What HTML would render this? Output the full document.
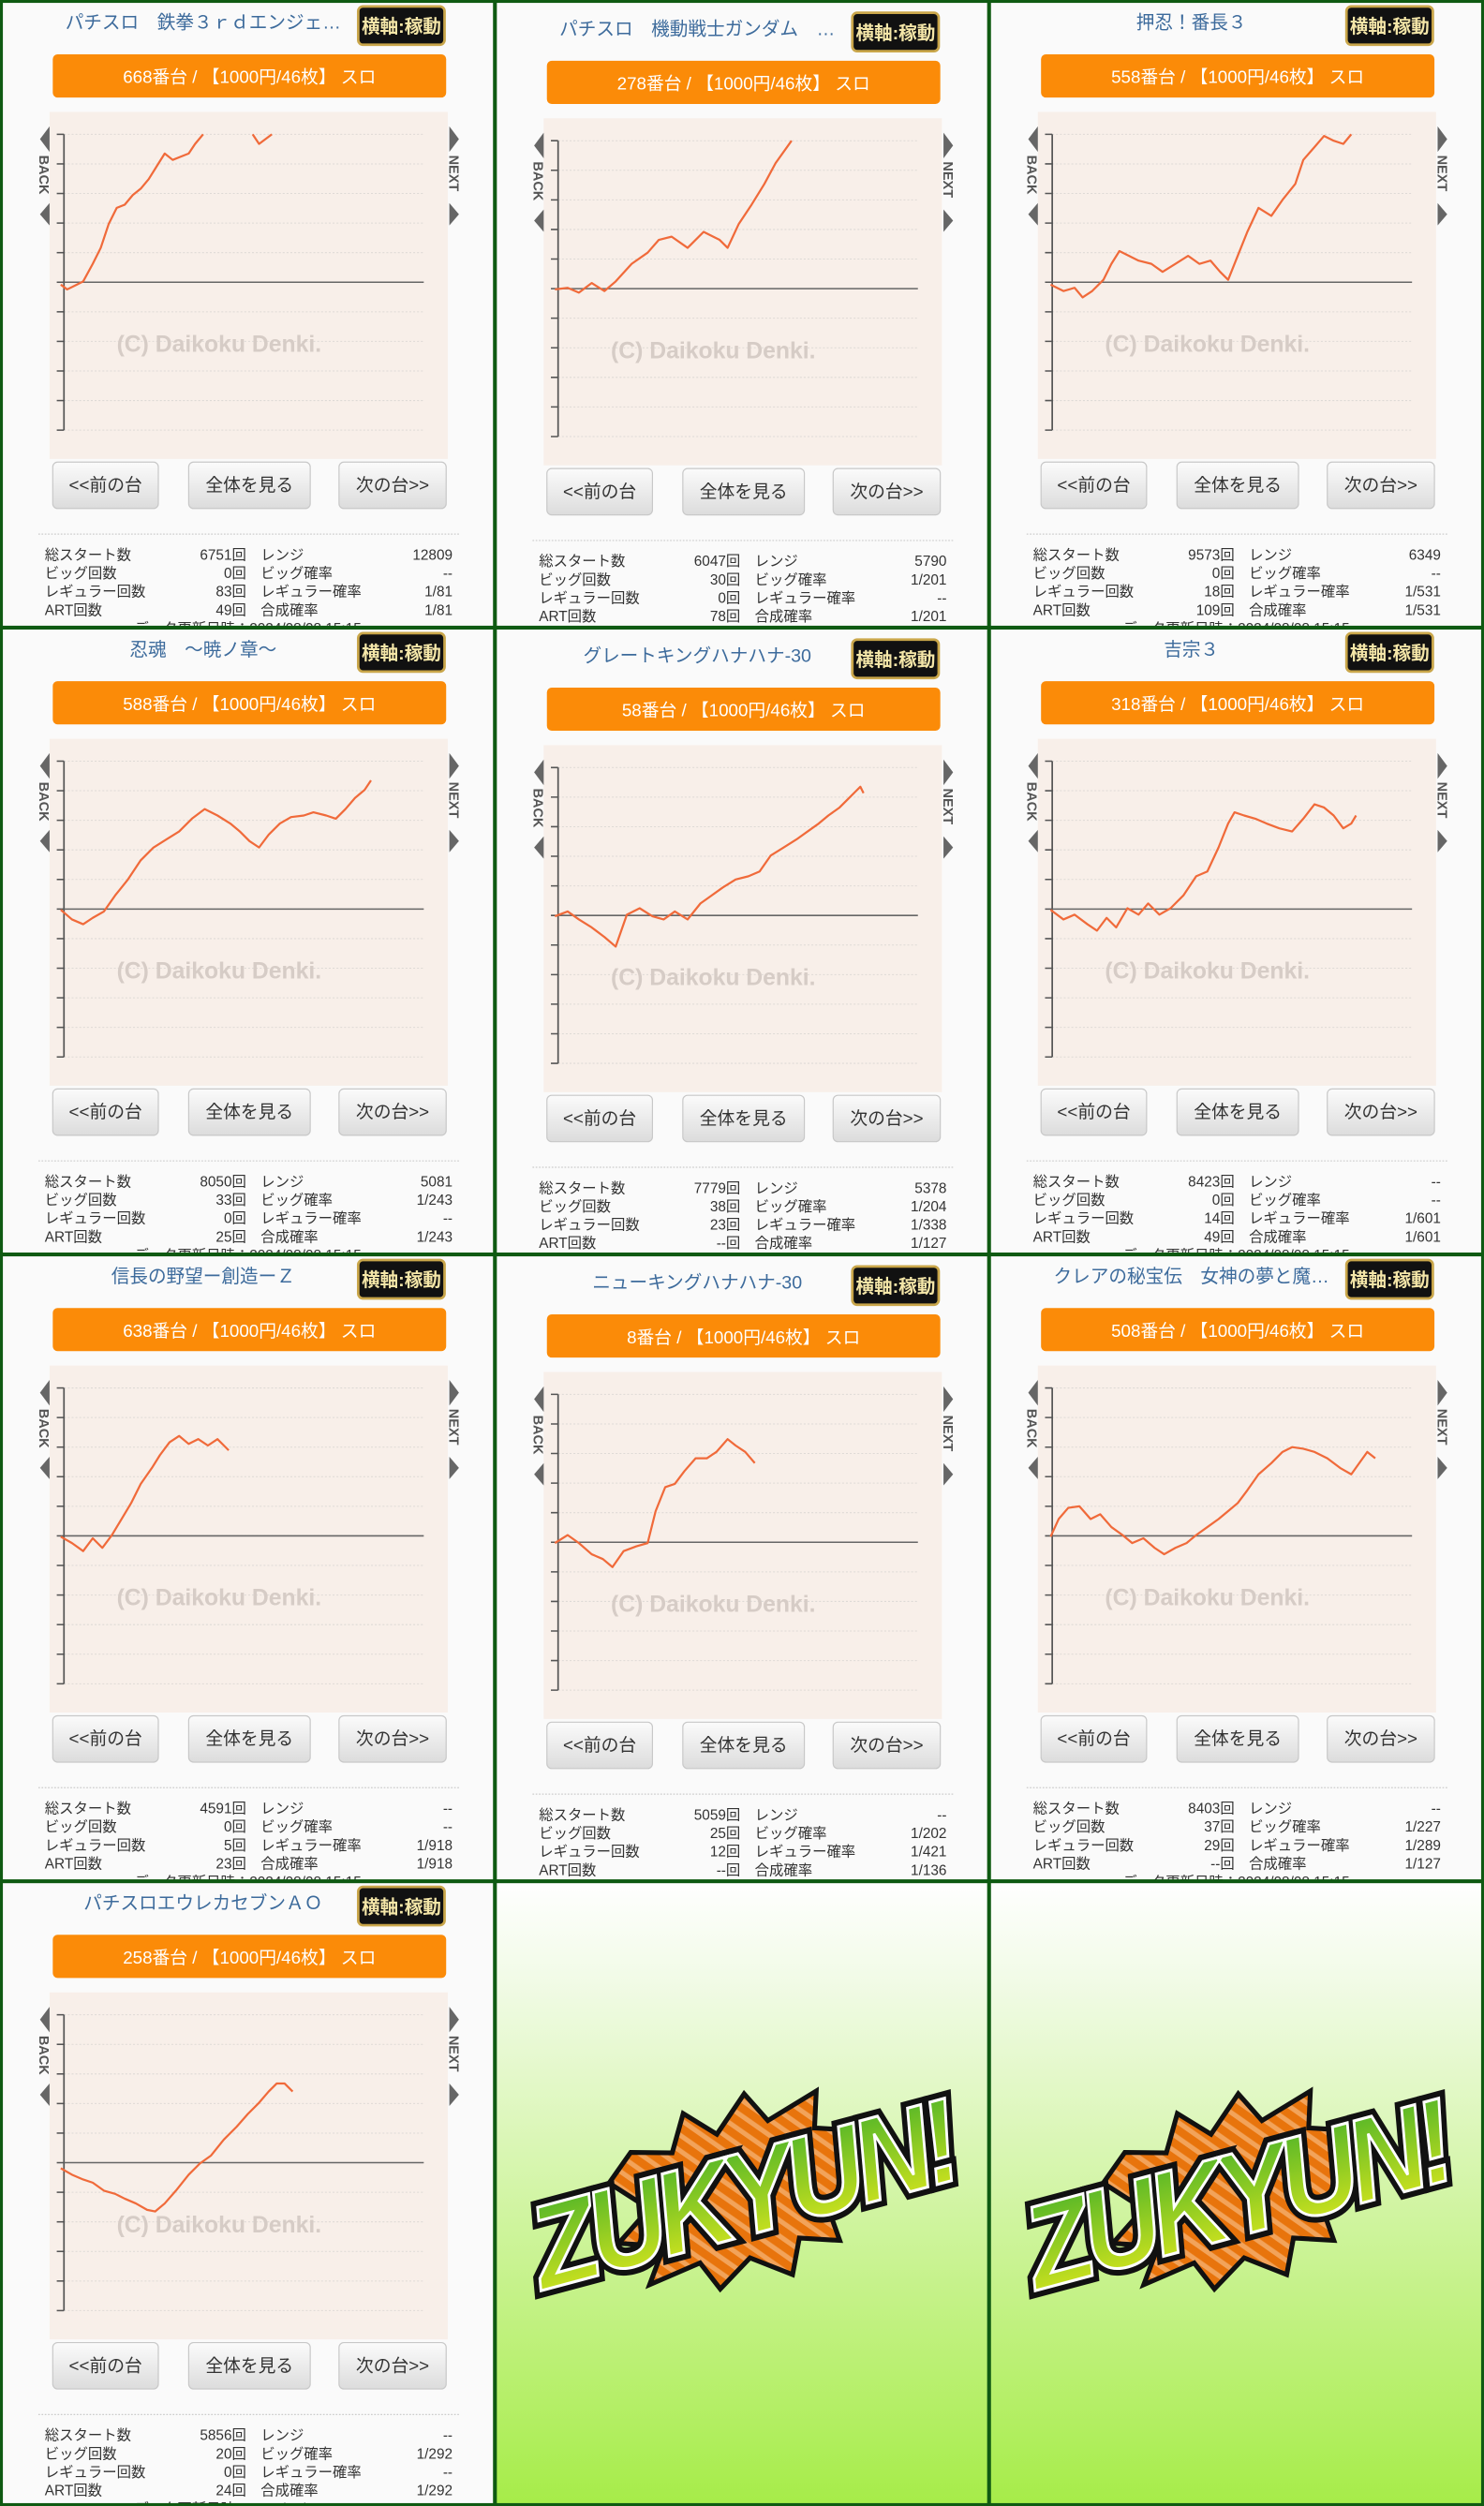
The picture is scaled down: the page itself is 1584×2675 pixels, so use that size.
<!DOCTYPE html>
<html><head><meta charset="utf-8">
<style>
html,body{margin:0;padding:0;background:#fff;width:1584px;height:2675px;overflow:hidden}
svg{display:block}
text{font-family:"Liberation Sans","Noto Sans CJK JP",sans-serif}
</style></head>
<body>
<div id="root"></div>
<script>
const W=309,H=392;
const cells=[
{t:"パチスロ　鉄拳３ｒｄエンジェ…",n:"668",s:["6751回","0回","83回","49回"],r:["12809","--","1/81","1/81"],
 p:[[[38,178],[42,181],[48,178],[52,176],[58,165],[63,155],[68,140],[73,130],[78,128],[83,122],[88,118],[93,112],[98,104],[103,96],[108,100],[113,98],[118,96],[122,90],[127,84]],[[158,84],[162,90],[166,87],[170,84]]]},
{t:"パチスロ　機動戦士ガンダム　…",n:"278",s:["6047回","30回","0回","78回"],r:["5790","1/201","--","1/201"],
 p:[[[347,181],[355,180],[362,183],[370,177],[378,182],[385,176],[395,165],[405,158],[412,150],[420,148],[430,155],[440,145],[450,150],[455,155],[462,140],[470,128],[478,115],[485,102],[495,88]]]},
{t:"押忍！番長３",n:"558",s:["9573回","0回","18回","109回"],r:["6349","--","1/531","1/531"],
 p:[[[657,178],[665,182],[672,180],[677,186],[683,182],[690,175],[695,165],[700,157],[706,160],[712,163],[720,165],[727,170],[735,165],[743,160],[750,165],[757,163],[763,170],[768,175],[774,160],[780,145],[787,130],[795,135],[802,125],[810,115],[815,100],[822,92],[828,85],[834,88],[840,90],[845,84]]]},
{t:"忍魂　～暁ノ章～",n:"588",s:["8050回","33回","0回","25回"],r:["5081","1/243","--","1/243"],
 p:[[[38,569],[45,575],[52,578],[58,574],[65,570],[72,560],[80,550],[88,538],[96,530],[104,525],[112,520],[120,512],[128,506],[136,510],[144,515],[150,520],[156,526],[162,530],[168,522],[175,515],[182,511],[190,510],[196,508],[204,510],[210,512],[216,506],[222,499],[228,494],[232,488]]]},
{t:"グレートキングハナハナ-30",n:"58",s:["7779回","38回","23回","--回"],r:["5378","1/204","1/338","1/127"],
 p:[[[347,573],[355,570],[362,575],[370,580],[378,586],[385,592],[392,572],[400,568],[408,573],[415,575],[422,570],[430,575],[438,565],[445,560],[452,555],[460,550],[468,548],[475,545],[482,535],[490,530],[498,525],[505,520],[512,515],[518,510],[525,505],[530,500],[535,495],[538,492],[540,496]]]},
{t:"吉宗３",n:"318",s:["8423回","0回","14回","49回"],r:["--","--","1/601","1/601"],
 p:[[[657,569],[665,575],[672,572],[680,578],[686,582],[692,574],[698,580],[705,568],[712,572],[718,565],[725,572],[732,568],[740,560],[748,548],[755,545],[762,530],[768,515],[772,508],[778,510],[785,512],[792,515],[800,518],[808,520],[815,512],[822,503],[828,505],[834,510],[840,518],[845,515],[848,510]]]},
{t:"信長の野望ー創造ーＺ",n:"638",s:["4591回","0回","5回","23回"],r:["--","--","1/918","1/918"],
 p:[[[38,961],[45,965],[52,970],[58,962],[64,968],[70,960],[76,950],[82,940],[88,928],[95,918],[100,910],[106,902],[112,898],[118,903],[124,900],[130,904],[136,900],[140,904],[143,907]]]},
{t:"ニューキングハナハナ-30",n:"8",s:["5059回","25回","12回","--回"],r:["--","1/202","1/421","1/136"],
 p:[[[347,965],[355,960],[362,965],[370,972],[377,975],[383,980],[390,970],[398,967],[405,965],[410,945],[416,930],[422,928],[428,920],[435,912],[442,912],[448,908],[455,900],[460,904],[466,908],[472,915]]]},
{t:"クレアの秘宝伝　女神の夢と魔…",n:"508",s:["8403回","37回","29回","--回"],r:["--","1/227","1/289","1/127"],
 p:[[[657,961],[662,950],[668,943],[675,942],[682,950],[688,947],[695,955],[702,960],[708,965],[715,962],[722,968],[728,972],[735,968],[742,965],[748,960],[755,955],[762,950],[768,945],[774,940],[780,932],[787,922],[795,915],[802,908],[808,905],[815,906],[822,908],[830,912],[838,918],[845,922],[850,915],[855,908],[860,912]]]},
{t:"パチスロエウレカセブンＡＯ",n:"258",s:["5856回","20回","0回","24回"],r:["--","1/292","--","1/292"],
 p:[[[38,1356],[45,1360],[52,1363],[58,1365],[65,1370],[72,1372],[78,1375],[85,1378],[92,1382],[97,1383],[103,1378],[110,1370],[118,1360],[125,1353],[132,1348],[140,1338],[148,1330],[155,1322],[162,1315],[168,1308],[173,1303],[178,1303],[183,1308]]]}
];
const L1=["総スタート数","ビッグ回数","レギュラー回数","ART回数"],L2=["レンジ","ビッグ確率","レギュラー確率","合成確率"];
let s=`<svg xmlns="http://www.w3.org/2000/svg" width="1584" height="2675" viewBox="0 0 928 1567.2" preserveAspectRatio="none">
<defs><linearGradient id="bt" x1="0" y1="0" x2="0" y2="1"><stop offset="0" stop-color="#fbfbfb"/><stop offset="1" stop-color="#dcdcdc"/></linearGradient>
<linearGradient id="zg" x1="0" y1="0" x2="0" y2="1"><stop offset="0" stop-color="#ffffff"/><stop offset="0.15" stop-color="#f2fbe8"/><stop offset="1" stop-color="#a6ec48"/></linearGradient>
<linearGradient id="lg" x1="0" y1="0" x2="0" y2="1"><stop offset="0" stop-color="#3fae2a"/><stop offset="1" stop-color="#e3ea1c"/></linearGradient>
<pattern id="st" width="8" height="8" patternUnits="userSpaceOnUse" patternTransform="rotate(-40)"><rect width="8" height="8" fill="#e8740c"/><rect width="3" height="8" fill="#f2a35a"/></pattern>
<clipPath id="cp0"><rect x="0" y="0" width="928" height="1568"/></clipPath></defs>
<rect width="928" height="1568" fill="#fafafa"/>`;
cells.forEach((c,i)=>{
 const col=i%3,row=Math.floor(i/3),ox=col*W,oy=row*H+(col==1?4:0),by=row*H;
 s+=`<svg x="${ox}" y="${by}" width="${W}" height="${H}" viewBox="${ox} ${by} ${W} ${H}" overflow="hidden"><g>`;
 s+=`<text x="${ox+127}" y="${oy+18}" font-size="11.5" fill="#3d6b9c" text-anchor="middle">${c.t}</text>`;
 s+=`<rect x="${ox+224}" y="${by+4+(col==1?4:0)}" width="54" height="24" rx="3" fill="#111" stroke="#c9a64a" stroke-width="1.6"/>`;
 s+=`<text x="${ox+251}" y="${by+20.5+(col==1?4:0)}" font-size="11.5" font-weight="bold" fill="#f4e6a8" text-anchor="middle">横軸:稼動</text>`;
 s+=`<rect x="${ox+33}" y="${oy+34}" width="246" height="27" rx="3" fill="#fb8b08"/>`;
 s+=`<text x="${ox+156}" y="${oy+52}" font-size="11" fill="#fff" text-anchor="middle">${c.n}番台 / 【1000円/46枚】 スロ</text>`;
 s+=`<rect x="${ox+31}" y="${oy+70}" width="249" height="217" fill="#f8efe9"/>`;
 for(let k=0;k<=10;k++){const y=oy+84+k*18.5;
  s+=`<line x1="${ox+40}" y1="${y}" x2="${ox+265}" y2="${y}" stroke="#dedad6" stroke-width="0.6" stroke-dasharray="1.2 1.2"/>`;
  s+=`<line x1="${ox+35.5}" y1="${y}" x2="${ox+40}" y2="${y}" stroke="#555" stroke-width="0.9"/>`;}
 s+=`<line x1="${ox+40}" y1="${oy+84}" x2="${ox+40}" y2="${oy+269}" stroke="#555" stroke-width="1"/>`;
 s+=`<line x1="${ox+40}" y1="${oy+176.5}" x2="${ox+265}" y2="${oy+176.5}" stroke="#666" stroke-width="0.9"/>`;
 s+=`<text x="${ox+137}" y="${oy+220}" font-size="14.5" font-weight="bold" fill="#d6ccc6" text-anchor="middle">(C) Daikoku Denki.</text>`;
 s+=`<polygon points="${ox+31},${oy+79} ${ox+25},${oy+87} ${ox+31},${oy+95}" fill="#666"/><polygon points="${ox+31},${oy+127} ${ox+25},${oy+134} ${ox+31},${oy+141}" fill="#666"/>`;
 s+=`<text transform="translate(${ox+24.5},${oy+97}) rotate(90)" font-size="8.5" font-weight="bold" fill="#555">BACK</text>`;
 s+=`<polygon points="${ox+281},${oy+79} ${ox+287},${oy+87} ${ox+281},${oy+95}" fill="#666"/><polygon points="${ox+281},${oy+127} ${ox+287},${oy+134} ${ox+281},${oy+141}" fill="#666"/>`;
 s+=`<text transform="translate(${ox+281},${oy+97}) rotate(90)" font-size="8.5" font-weight="bold" fill="#555">NEXT</text>`;
 c.p.forEach(seg=>{s+=`<polyline points="${seg.map(q=>q[0]+","+q[1]).join(" ")}" fill="none" stroke="#f06a3a" stroke-width="1.3" stroke-linejoin="round"/>`;});
 [[33,66,"&lt;&lt;前の台"],[118,76,"全体を見る"],[212,67,"次の台&gt;&gt;"]].forEach(b=>{
  s+=`<rect x="${ox+b[0]}" y="${oy+289}" width="${b[1]}" height="29" rx="3" fill="url(#bt)" stroke="#c8c8c8" stroke-width="0.7"/>`;
  s+=`<text x="${ox+b[0]+b[1]/2}" y="${oy+307}" font-size="11" fill="#333" text-anchor="middle">${b[2]}</text>`;});
 s+=`<line x1="${ox+24}" y1="${oy+334}" x2="${ox+287}" y2="${oy+334}" stroke="#ccc" stroke-width="0.7" stroke-dasharray="1 1"/>`;
 for(let k=0;k<4;k++){const y=oy+350+k*11.5;
  s+=`<text x="${ox+28}" y="${y}" font-size="9" fill="#333">${L1[k]}</text>`;
  s+=`<text x="${ox+154}" y="${y}" font-size="9" fill="#333" text-anchor="end">${c.s[k]}</text>`;
  s+=`<text x="${ox+163}" y="${y}" font-size="9" fill="#333">${L2[k]}</text>`;
  s+=`<text x="${ox+283}" y="${y}" font-size="9" fill="#333" text-anchor="end">${c.r[k]}</text>`;}
 s+=`<text x="${ox+155}" y="${oy+396}" font-size="9" fill="#333" text-anchor="middle">データ更新日時：2024/08/08 15:15</text>`;
 s+=`</g></svg>`;
});
[1,2].forEach(col=>{const ox=col*W,oy=3*H;
 s+=`<rect x="${ox}" y="${oy}" width="${W+1}" height="${H}" fill="url(#zg)"/>`;
 s+=`<g transform="translate(${ox+155},${oy+198}) rotate(-15)">`;
 s+=`<polygon points="-60,-45 -35,-38 -22,-60 -5,-42 18,-62 28,-42 62,-52 55,-30 85,-20 65,0 82,22 50,17 52,42 28,34 18,55 -5,38 -28,52 -36,33 -70,38 -55,17 -82,8 -58,-8 -78,-30" fill="url(#st)" stroke="#111" stroke-width="3"/>`;
 s+=`<text x="0" y="24" font-size="74" font-weight="bold" font-style="italic" text-anchor="middle" fill="url(#lg)" stroke="#111" stroke-width="9" paint-order="stroke" letter-spacing="-5" textLength="270" lengthAdjust="spacingAndGlyphs">ZUKYUN!</text>`;
 s+=`<text x="0" y="24" font-size="74" font-weight="bold" font-style="italic" text-anchor="middle" fill="url(#lg)" stroke="#fff" stroke-width="1.8" letter-spacing="-5" textLength="270" lengthAdjust="spacingAndGlyphs">ZUKYUN!</text>`;
 s+=`</g>`;});
for(let r=0;r<4;r++)for(let c=0;c<3;c++){s+=`<rect x="${c*W+0.8}" y="${r*H+0.8}" width="${W-0.6}" height="${H-0.6}" fill="none" stroke="#0f5a12" stroke-width="1.8"/>`;}
s+=`<rect x="0.9" y="0.9" width="926.2" height="1565.4" fill="none" stroke="#0f5a12" stroke-width="1.8"/>`;
s+=`</svg>`;
document.getElementById('root').innerHTML=s;
</script>
</body></html>
